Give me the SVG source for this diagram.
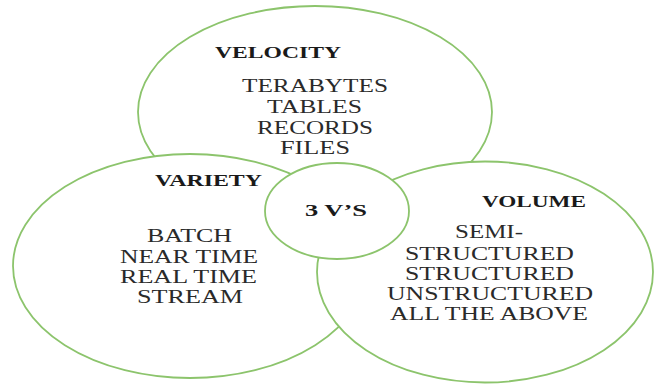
<svg xmlns="http://www.w3.org/2000/svg" width="655" height="385" viewBox="0 0 655 385">
<style>
.shape{fill:#ffffff;stroke:#8cc46c;stroke-width:1.8}
.title{font-family:"Liberation Serif","Times New Roman",serif;font-weight:bold;font-size:17px;fill:#1a1a1a}
.body{font-family:"Liberation Serif","Times New Roman",serif;font-size:19px;fill:#2a2a2a}
</style>
<rect width="655" height="385" fill="#ffffff"/>
<g id="velocity">
<ellipse class="shape" cx="315" cy="112" rx="177" ry="106"/>
<text class="title" x="215" y="58" textLength="126" lengthAdjust="spacingAndGlyphs">VELOCITY</text>
<text class="body" x="242" y="92" textLength="146" lengthAdjust="spacingAndGlyphs">TERABYTES</text>
<text class="body" x="267" y="113" textLength="95" lengthAdjust="spacingAndGlyphs">TABLES</text>
<text class="body" x="257" y="134" textLength="116" lengthAdjust="spacingAndGlyphs">RECORDS</text>
<text class="body" x="280" y="154" textLength="70" lengthAdjust="spacingAndGlyphs">FILES</text>
</g>
<g id="variety">
<ellipse class="shape" cx="190" cy="266" rx="177" ry="112"/>
<text class="title" x="155" y="186" textLength="107" lengthAdjust="spacingAndGlyphs">VARIETY</text>
<text class="body" x="147" y="242" textLength="85" lengthAdjust="spacingAndGlyphs">BATCH</text>
<text class="body" x="120" y="263" textLength="138" lengthAdjust="spacingAndGlyphs">NEAR TIME</text>
<text class="body" x="120" y="283" textLength="137" lengthAdjust="spacingAndGlyphs">REAL TIME</text>
<text class="body" x="137" y="303" textLength="106" lengthAdjust="spacingAndGlyphs">STREAM</text>
</g>
<g id="volume">
<ellipse class="shape" cx="485" cy="272" rx="168" ry="110.5"/>
<text class="title" x="482" y="207" textLength="104" lengthAdjust="spacingAndGlyphs">VOLUME</text>
<text class="body" x="455" y="238" textLength="68" lengthAdjust="spacingAndGlyphs">SEMI-</text>
<text class="body" x="405" y="260" textLength="169" lengthAdjust="spacingAndGlyphs">STRUCTURED</text>
<text class="body" x="405" y="280" textLength="169" lengthAdjust="spacingAndGlyphs">STRUCTURED</text>
<text class="body" x="387" y="300" textLength="206" lengthAdjust="spacingAndGlyphs">UNSTRUCTURED</text>
<text class="body" x="390" y="320" textLength="198" lengthAdjust="spacingAndGlyphs">ALL THE ABOVE</text>
</g>
<g id="three-vs">
<ellipse class="shape" cx="337" cy="211" rx="72" ry="48"/>
<text class="title" x="305" y="216" textLength="62" lengthAdjust="spacingAndGlyphs">3 V’S</text>
</g>
<g id="connectors"/>
</svg>
